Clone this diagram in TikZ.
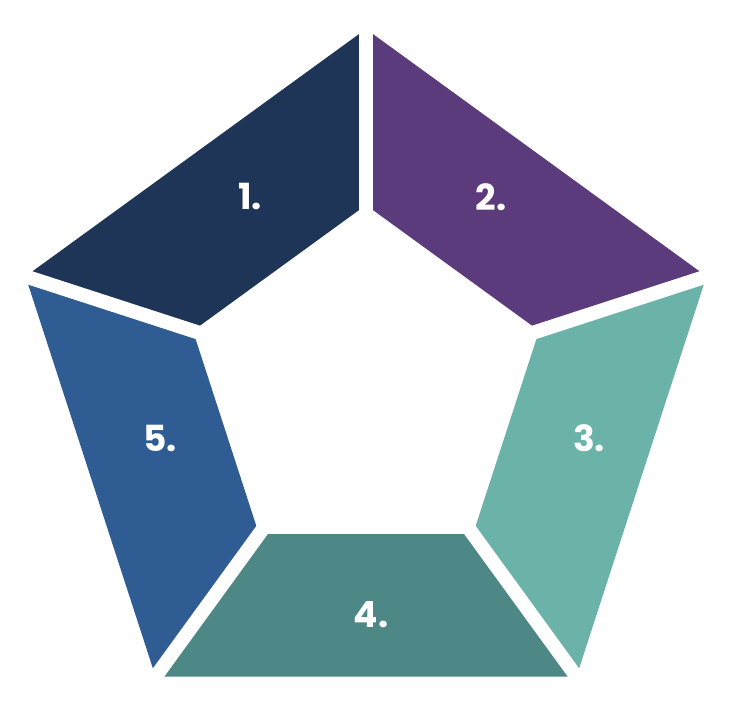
\documentclass[tikz,border=0pt]{standalone}
\usepackage{fontspec}
\setmainfont{Poppins}
\usepackage{xcolor}
\definecolor{segA}{HTML}{1F3557}
\definecolor{segB}{HTML}{5B3B7B}
\definecolor{segC}{HTML}{6BB3A8}
\definecolor{segD}{HTML}{4D8886}
\definecolor{segE}{HTML}{2F5C93}
\begin{document}
\begin{tikzpicture}[x=1pt,y=-1pt,
    every node/.style={font=\fontsize{36}{36}\selectfont\bfseries, text=white},
    gap/.style={white, line width=14pt}]
    \fill[white] (0,0) rectangle (746,717);
    \useasboundingbox (0,0) rectangle (746,717);
    % Corners of the outer and inner pentagon
    \coordinate (c) at (366,387);
    \foreach \k in {0,...,4} {
      \path (c) ++({72*\k-90}:358) coordinate (o\k);
      \path (c) ++({72*\k-90}:182) coordinate (i\k);
      \path (c) ++({72*\k-90}:375) coordinate (e\k);
    }
    % Five segments of the ring
    \fill[segA] (o4) -- (o0) -- (i0) -- (i4) -- cycle;
    \fill[segB] (o0) -- (o1) -- (i1) -- (i0) -- cycle;
    \fill[segC] (o1) -- (o2) -- (i2) -- (i1) -- cycle;
    \fill[segD] (o2) -- (o3) -- (i3) -- (i2) -- cycle;
    \fill[segE] (o3) -- (o4) -- (i4) -- (i3) -- cycle;
    % White gaps between the segments
    \foreach \k in {0,...,4}
      \draw[gap] (c) -- (e\k);
    % Labels
    \node (l1) at (250,197) {1.};
    \node (l2) at (491,197) {2.};
    \node (l3) at (589,438) {3.};
    \node (l4) at (371,615) {4.};
    \node (l5) at (160,438) {5.};
  \end{tikzpicture}
\end{document}
